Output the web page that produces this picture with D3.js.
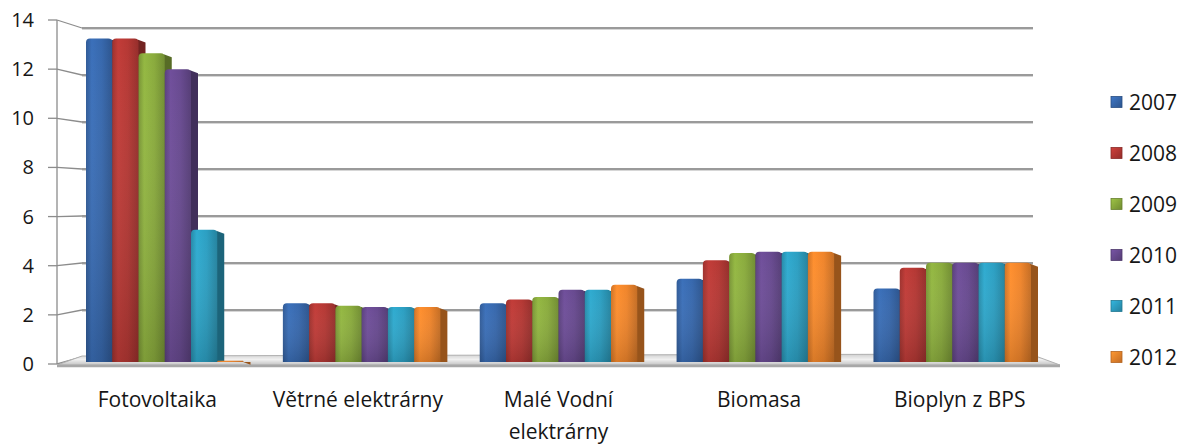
<!DOCTYPE html>
<html>
<head>
<meta charset="utf-8">
<script src="https://cdn.jsdelivr.net/npm/d3@7"></script>
<style>
  html, body { margin: 0; padding: 0; background: #fff; }
  svg text { font-family: "Open Sans", "Noto Sans", sans-serif; fill: #161616; }
</style>
</head>
<body>
<svg id="chart" width="1192" height="446"></svg>
<script>
// ---- data ----
const categories = ["Fotovoltaika", "Větrné elektrárny", "Malé Vodní elektrárny", "Biomasa", "Bioplyn z BPS"];
const years = ["2007", "2008", "2009", "2010", "2011", "2012"];
const s2007 = [13.2, 2.4, 2.4, 3.4, 3.0];
const s2008 = [13.2, 2.4, 2.55, 4.15, 3.85];
const s2009 = [12.6, 2.3, 2.65, 4.45, 4.05];
const s2010 = [11.95, 2.25, 2.95, 4.5, 4.05];
const s2011 = [5.4, 2.25, 2.95, 4.5, 4.05];
const s2012 = [0.05, 2.25, 3.15, 4.5, 4.05];
const yTicks = [0, 2, 4, 6, 8, 10, 12, 14];
const colors = ["#3768ad", "#b53834", "#8aab3d", "#684a90", "#2c9fc2", "#f0852b"];

const series = [s2007, s2008, s2009, s2010, s2011, s2012];

const svg = d3.select("#chart");
const defs = svg.append("defs");

// scales
const yFront = d3.scaleLinear().domain([0, 14]).range([364, 20]);
const yBack = d3.scaleLinear().domain([0, 14]).range([357, 28]);
const yBar = d3.scaleLinear().domain([0, 14]).range([362, 19]);
const xBack = d3.scaleBand().domain(categories).range([86, 1031]).paddingInner(0.2).paddingOuter(0);
const xSub = d3.scaleBand().domain(years).range([0, xBack.bandwidth()]).padding(0);
const xLabel = d3.scaleBand().domain(categories).range([57, 1060]).padding(0);

const frontX = 57, backX = 82, backRight = 1033;

// gradients per series
colors.forEach((c, i) => {
  const g = defs.append("linearGradient").attr("id", "g" + i).attr("x1", "0").attr("x2", "1").attr("y1", "0").attr("y2", "0");
  const base = d3.color(c);
  g.append("stop").attr("offset", "0%").attr("stop-color", base.darker(0.4));
  g.append("stop").attr("offset", "22%").attr("stop-color", base.brighter(0.2));
  g.append("stop").attr("offset", "60%").attr("stop-color", base);
  g.append("stop").attr("offset", "100%").attr("stop-color", base.darker(0.55));
  const gv = defs.append("linearGradient").attr("id", "v" + i).attr("x1", "0").attr("x2", "0").attr("y1", "0").attr("y2", "1");
  gv.append("stop").attr("offset", "0%").attr("stop-color", "#fff").attr("stop-opacity", 0.0);
  gv.append("stop").attr("offset", "100%").attr("stop-color", "#000").attr("stop-opacity", 0.15);
  const lg = defs.append("linearGradient").attr("id", "l" + i).attr("x1", "0").attr("x2", "1").attr("y1", "0").attr("y2", "1");
  lg.append("stop").attr("offset", "0%").attr("stop-color", base.brighter(0.4));
  lg.append("stop").attr("offset", "100%").attr("stop-color", base.darker(0.6));
});
const floorG = defs.append("linearGradient").attr("id", "floor").attr("x1", "0").attr("x2", "0").attr("y1", "0").attr("y2", "1");
floorG.append("stop").attr("offset", "0%").attr("stop-color", "#cfcfcf");
floorG.append("stop").attr("offset", "50%").attr("stop-color", "#f0f0f0");
floorG.append("stop").attr("offset", "100%").attr("stop-color", "#c4c4c4");

// back-wall gridlines and diagonal ticks
const grid = svg.append("g");
yTicks.forEach(t => {
  if (t > 0) {
    grid.append("line").attr("x1", backX).attr("x2", backRight)
      .attr("y1", yBack(t) + 1.5).attr("y2", yBack(t) + 1.5)
      .attr("stroke", "#d6d6d6").attr("stroke-width", 1);
    grid.append("line").attr("x1", backX).attr("x2", backRight)
      .attr("y1", yBack(t)).attr("y2", yBack(t))
      .attr("stroke", "#9a9a9a").attr("stroke-width", 1.8);
  }
  grid.append("line").attr("x1", frontX).attr("x2", backX)
    .attr("y1", yFront(t)).attr("y2", yBack(t))
    .attr("stroke", "#8c8c8c").attr("stroke-width", 1.3);
  grid.append("line").attr("x1", frontX - 9).attr("x2", frontX)
    .attr("y1", yFront(t)).attr("y2", yFront(t))
    .attr("stroke", "#8c8c8c").attr("stroke-width", 1.3);
});
grid.append("line").attr("x1", frontX).attr("x2", frontX)
  .attr("y1", yFront(14)).attr("y2", yFront(0))
  .attr("stroke", "#8c8c8c").attr("stroke-width", 1.3);

// floor
svg.append("path")
  .attr("d", `M${backX},${yBack(0) - 1} L${backRight - 3},${yBack(0) - 3} L1060,${yFront(0) + 1} L${frontX},${yFront(0) + 1} Z`)
  .attr("fill", "url(#floor)").attr("stroke", "#b0b0b0").attr("stroke-width", 1);
svg.append("line").attr("x1", frontX).attr("x2", 1060)
  .attr("y1", yFront(0) + 2).attr("y2", yFront(0) + 2)
  .attr("stroke", "#a8a8a8").attr("stroke-width", 2.5);

// bars
const bars = svg.append("g");
categories.forEach((cat, ci) => {
  years.forEach((yr, si) => {
    const v = series[si][ci];
    const x = xBack(cat) + xSub(yr);
    const w = xSub.bandwidth();
    const top = yBar(v);
    const base = yBar(0);
    const h = base - top;
    const g = bars.append("g");
    // side face
    const d = 7;
    g.append("path")
      .attr("d", `M${x + w - 1},${top + 1} L${x + w + d},${top + 4} L${x + w + d},${base} L${x + w - 1},${base} Z`)
      .attr("fill", d3.color(colors[si]).darker(1.3));
    // front face with rounded top
    const r = Math.min(4, h / 2);
    const path = `M${x},${base} L${x},${top + r} Q${x},${top} ${x + r},${top} L${x + w - r},${top} Q${x + w},${top} ${x + w},${top + r} L${x + w},${base} Z`;
    g.append("path").attr("d", path).attr("fill", `url(#g${si})`);
    g.append("path").attr("d", path).attr("fill", `url(#v${si})`);
  });
});

// y labels
svg.append("g").selectAll("text").data(yTicks).join("text")
  .attr("x", 34).attr("y", d => yFront(d))
  .attr("dy", "0.35em").attr("text-anchor", "end")
  .attr("font-size", 20).text(d => d);

// x labels with wrapping
const xl = svg.append("g");
categories.forEach(cat => {
  const cx = xLabel(cat) + xLabel.bandwidth() / 2;
  const t = xl.append("text").attr("x", cx)
    .attr("y", 407).attr("text-anchor", "middle").attr("font-size", 21);
  const words = cat.split(" ");
  let line = [];
  let tspan = t.append("tspan").attr("x", cx).attr("dy", 0);
  words.forEach(wd => {
    line.push(wd);
    tspan.text(line.join(" "));
    if (tspan.node().getComputedTextLength() > 195 && line.length > 1) {
      line.pop();
      tspan.text(line.join(" "));
      line = [wd];
      tspan = t.append("tspan").attr("x", cx).attr("dy", 32).text(wd);
    }
  });
});

// legend
const legY = d3.scalePoint().domain(years).range([102, 357]);
const leg = svg.append("g");
years.forEach((yr, i) => {
  leg.append("rect").attr("x", 1111).attr("y", legY(yr) - 5.5).attr("width", 11).attr("height", 11)
    .attr("fill", `url(#l${i})`).attr("stroke", d3.color(colors[i]).darker(0.8)).attr("stroke-width", 0.8);
  leg.append("text").attr("x", 1129).attr("y", legY(yr)).attr("dy", "0.36em")
    .attr("font-size", 21).text(yr);
});
</script>
</body>
</html>
